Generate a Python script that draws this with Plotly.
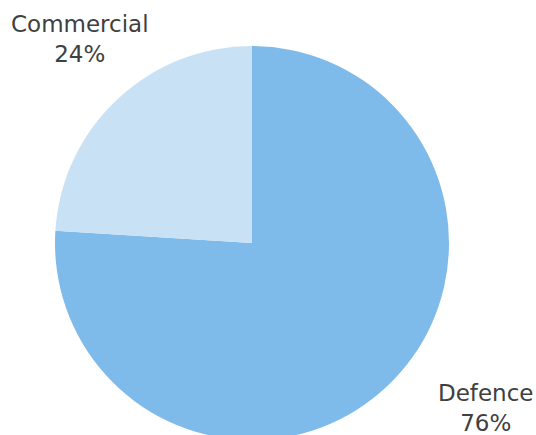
import plotly.graph_objects as go

labels = ["Defence", "Commercial"]
values = [76, 24]
colors = ["#7FBBEA", "#C8E1F5"]

W, H = 536, 446
cx, cy, r = 252, 243, 197  # pixel layout of the pie (from top-left)

fig = go.Figure(go.Pie(
    labels=labels, values=values, sort=False, direction="clockwise", rotation=0,
    marker=dict(colors=colors, line=dict(width=0)),
    textinfo="none", hoverinfo="label+percent", showlegend=False,
    domain=dict(x=[(cx - r) / W, (cx + r) / W], y=[(H - cy - r) / H, (H - cy + r) / H]),
))

total = sum(values)
label_pos = {"Commercial": (80, 39), "Defence": (485, 408)}
for lab, val in zip(labels, values):
    px, py = label_pos[lab]
    fig.add_annotation(
        x=px / W, y=1 - py / H, xref="paper", yref="paper",
        text=f"{lab}<br>{round(100 * val / total)}%", showarrow=False,
        xanchor="center", yanchor="middle", align="center",
        font=dict(family="DejaVu Sans", size=23, color="#404040"),
    )

fig.update_layout(
    width=W, height=H, margin=dict(l=0, r=0, t=0, b=0),
    paper_bgcolor="white", plot_bgcolor="white",
)

fig.write_html("out.html", post_script="document.body.style.overflow='hidden';document.documentElement.style.overflow='hidden';document.body.style.margin='0';")
